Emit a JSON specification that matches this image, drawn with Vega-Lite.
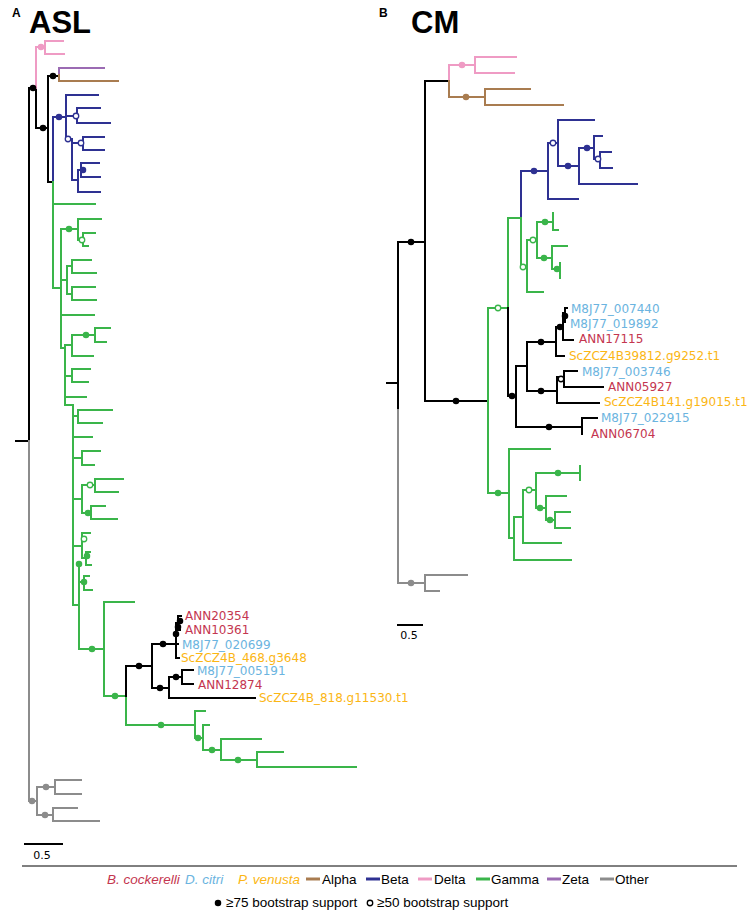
{
"$schema":"https://vega.github.io/schema/vega-lite/v6.json",
"width":750,"height":913,
"autosize":{"type":"fit","contains":"padding"},
"padding":0,
"config":{"view":{"stroke":null}},
"datasets":{
"seg":[
{"x":16,"y":441,"x2":29,"y2":441,"c":"K"},{"x":29,"y":88,"x2":29,"y2":441,"c":"K"},{"x":29,"y":88,"x2":36,"y2":88,"c":"K"},{"x":36,"y":88,"x2":36,"y2":128,"c":"K"},{"x":36,"y":128,"x2":48,"y2":128,"c":"K"},{"x":48,"y":76,"x2":48,"y2":182,"c":"K"},{"x":48,"y":76,"x2":59,"y2":76,"c":"K"},{"x":48,"y":182,"x2":53,"y2":182,"c":"K"},
{"x":29,"y":441,"x2":29,"y2":801,"c":"O"},
{"x":36,"y":47,"x2":36,"y2":88,"c":"D"},{"x":36,"y":47,"x2":45,"y2":47,"c":"D"},{"x":45,"y":41,"x2":45,"y2":54,"c":"D"},{"x":45,"y":41,"x2":63,"y2":41,"c":"D"},{"x":45,"y":54,"x2":64,"y2":54,"c":"D"},
{"x":59,"y":68,"x2":59,"y2":75,"c":"Z"},{"x":59,"y":68,"x2":104,"y2":68,"c":"Z"},
{"x":59,"y":75,"x2":59,"y2":81,"c":"Al"},{"x":59,"y":81,"x2":118,"y2":81,"c":"Al"},
{"x":53,"y":117,"x2":53,"y2":182,"c":"B"},{"x":53,"y":117,"x2":66,"y2":117,"c":"B"},{"x":66,"y":95,"x2":66,"y2":139,"c":"B"},{"x":66,"y":95,"x2":98,"y2":95,"c":"B"},{"x":66,"y":116,"x2":77,"y2":116,"c":"B"},{"x":77,"y":108,"x2":77,"y2":123,"c":"B"},{"x":77,"y":108,"x2":100,"y2":108,"c":"B"},{"x":77,"y":123,"x2":110,"y2":123,"c":"B"},{"x":66,"y":139,"x2":72,"y2":139,"c":"B"},{"x":72,"y":139,"x2":72,"y2":180,"c":"B"},{"x":72,"y":143,"x2":83,"y2":143,"c":"B"},{"x":83,"y":137,"x2":83,"y2":150,"c":"B"},{"x":83,"y":137,"x2":104,"y2":137,"c":"B"},{"x":83,"y":150,"x2":104,"y2":150,"c":"B"},{"x":72,"y":180,"x2":78,"y2":180,"c":"B"},{"x":78,"y":170,"x2":78,"y2":192,"c":"B"},{"x":78,"y":170,"x2":81,"y2":170,"c":"B"},{"x":81,"y":163,"x2":81,"y2":177,"c":"B"},{"x":81,"y":163,"x2":99,"y2":163,"c":"B"},{"x":81,"y":177,"x2":100,"y2":177,"c":"B"},{"x":78,"y":192,"x2":100,"y2":192,"c":"B"},
{"x":53,"y":182,"x2":53,"y2":288,"c":"G"},{"x":53,"y":204,"x2":95,"y2":204,"c":"G"},{"x":53,"y":288,"x2":61,"y2":288,"c":"G"},{"x":61,"y":229,"x2":61,"y2":348,"c":"G"},
{"x":61,"y":229,"x2":78,"y2":229,"c":"G"},{"x":78,"y":219,"x2":78,"y2":240,"c":"G"},{"x":78,"y":219,"x2":101,"y2":219,"c":"G"},{"x":78,"y":240,"x2":83,"y2":240,"c":"G"},{"x":83,"y":233,"x2":83,"y2":246,"c":"G"},{"x":83,"y":233,"x2":95,"y2":233,"c":"G"},{"x":83,"y":246,"x2":88,"y2":246,"c":"G"},
{"x":61,"y":280,"x2":67,"y2":280,"c":"G"},{"x":67,"y":266,"x2":67,"y2":294,"c":"G"},{"x":67,"y":266,"x2":72,"y2":266,"c":"G"},{"x":72,"y":260,"x2":72,"y2":273,"c":"G"},{"x":72,"y":260,"x2":91,"y2":260,"c":"G"},{"x":72,"y":273,"x2":96,"y2":273,"c":"G"},{"x":67,"y":294,"x2":72,"y2":294,"c":"G"},{"x":72,"y":287,"x2":72,"y2":300,"c":"G"},{"x":72,"y":287,"x2":95,"y2":287,"c":"G"},{"x":72,"y":300,"x2":96,"y2":300,"c":"G"},
{"x":61,"y":315,"x2":94,"y2":315,"c":"G"},{"x":61,"y":348,"x2":65,"y2":348,"c":"G"},{"x":65,"y":345,"x2":65,"y2":405,"c":"G"},
{"x":65,"y":345,"x2":72,"y2":345,"c":"G"},{"x":72,"y":335,"x2":72,"y2":356,"c":"G"},{"x":72,"y":335,"x2":95,"y2":335,"c":"G"},{"x":95,"y":328,"x2":95,"y2":342,"c":"G"},{"x":95,"y":328,"x2":110,"y2":328,"c":"G"},{"x":95,"y":342,"x2":106,"y2":342,"c":"G"},{"x":72,"y":356,"x2":93,"y2":356,"c":"G"},
{"x":65,"y":376,"x2":72,"y2":376,"c":"G"},{"x":72,"y":369,"x2":72,"y2":382,"c":"G"},{"x":72,"y":369,"x2":90,"y2":369,"c":"G"},{"x":72,"y":382,"x2":88,"y2":382,"c":"G"},
{"x":65,"y":397,"x2":86,"y2":397,"c":"G"},{"x":65,"y":405,"x2":73,"y2":405,"c":"G"},{"x":73,"y":405,"x2":73,"y2":605,"c":"G"},
{"x":73,"y":416,"x2":78,"y2":416,"c":"G"},{"x":78,"y":410,"x2":78,"y2":423,"c":"G"},{"x":78,"y":410,"x2":112,"y2":410,"c":"G"},{"x":78,"y":423,"x2":102,"y2":423,"c":"G"},
{"x":73,"y":437,"x2":92,"y2":437,"c":"G"},
{"x":73,"y":458,"x2":82,"y2":458,"c":"G"},{"x":82,"y":451,"x2":82,"y2":465,"c":"G"},{"x":82,"y":451,"x2":100,"y2":451,"c":"G"},{"x":82,"y":465,"x2":94,"y2":465,"c":"G"},
{"x":73,"y":499,"x2":82,"y2":499,"c":"G"},{"x":82,"y":485,"x2":82,"y2":513,"c":"G"},{"x":82,"y":485,"x2":95,"y2":485,"c":"G"},{"x":95,"y":479,"x2":95,"y2":492,"c":"G"},{"x":95,"y":479,"x2":123,"y2":479,"c":"G"},{"x":95,"y":492,"x2":118,"y2":492,"c":"G"},{"x":82,"y":513,"x2":91,"y2":513,"c":"G"},{"x":91,"y":506,"x2":91,"y2":519,"c":"G"},{"x":91,"y":506,"x2":105,"y2":506,"c":"G"},{"x":91,"y":519,"x2":117,"y2":519,"c":"G"},
{"x":73,"y":546,"x2":82,"y2":546,"c":"G"},{"x":82,"y":533,"x2":82,"y2":558,"c":"G"},{"x":82,"y":533,"x2":90,"y2":533,"c":"G"},{"x":82,"y":558,"x2":86,"y2":558,"c":"G"},{"x":86,"y":552,"x2":86,"y2":565,"c":"G"},{"x":86,"y":552,"x2":90,"y2":552,"c":"G"},{"x":86,"y":565,"x2":91,"y2":565,"c":"G"},
{"x":73,"y":605,"x2":79,"y2":605,"c":"G"},{"x":79,"y":566,"x2":79,"y2":649,"c":"G"},{"x":79,"y":582,"x2":84,"y2":582,"c":"G"},{"x":84,"y":576,"x2":84,"y2":590,"c":"G"},{"x":84,"y":576,"x2":89,"y2":576,"c":"G"},{"x":84,"y":590,"x2":92,"y2":590,"c":"G"},
{"x":79,"y":649,"x2":104,"y2":649,"c":"G"},{"x":104,"y":602,"x2":104,"y2":696,"c":"G"},{"x":104,"y":602,"x2":134,"y2":602,"c":"G"},{"x":104,"y":696,"x2":126,"y2":696,"c":"G"},{"x":126,"y":696,"x2":126,"y2":725,"c":"G"},
{"x":126,"y":725,"x2":195,"y2":725,"c":"G"},{"x":195,"y":711,"x2":195,"y2":738,"c":"G"},{"x":195,"y":711,"x2":205,"y2":711,"c":"G"},{"x":195,"y":738,"x2":203,"y2":738,"c":"G"},{"x":203,"y":725,"x2":203,"y2":750,"c":"G"},{"x":203,"y":725,"x2":209,"y2":725,"c":"G"},{"x":203,"y":750,"x2":221,"y2":750,"c":"G"},{"x":221,"y":739,"x2":221,"y2":760,"c":"G"},{"x":221,"y":739,"x2":261,"y2":739,"c":"G"},{"x":221,"y":760,"x2":257,"y2":760,"c":"G"},{"x":257,"y":752,"x2":257,"y2":767,"c":"G"},{"x":257,"y":752,"x2":283,"y2":752,"c":"G"},{"x":257,"y":767,"x2":356,"y2":767,"c":"G"},
{"x":126,"y":666,"x2":126,"y2":696,"c":"K"},{"x":126,"y":666,"x2":152,"y2":666,"c":"K"},{"x":152,"y":644,"x2":152,"y2":688,"c":"K"},{"x":152,"y":644,"x2":176,"y2":644,"c":"K"},{"x":176,"y":623,"x2":176,"y2":658,"c":"K"},{"x":176,"y":623,"x2":178,"y2":623,"c":"K"},{"x":178,"y":616,"x2":178,"y2":630,"c":"K"},{"x":178,"y":616,"x2":181,"y2":616,"c":"K"},{"x":178,"y":630,"x2":180,"y2":630,"c":"K"},{"x":176,"y":644,"x2":178,"y2":644,"c":"K"},{"x":176,"y":658,"x2":179,"y2":658,"c":"K"},
{"x":152,"y":688,"x2":169,"y2":688,"c":"K"},{"x":169,"y":677,"x2":169,"y2":698,"c":"K"},{"x":169,"y":677,"x2":182,"y2":677,"c":"K"},{"x":182,"y":670,"x2":182,"y2":684,"c":"K"},{"x":182,"y":670,"x2":193,"y2":670,"c":"K"},{"x":182,"y":684,"x2":193,"y2":684,"c":"K"},{"x":169,"y":698,"x2":255,"y2":698,"c":"K"},
{"x":29,"y":801,"x2":37,"y2":801,"c":"O"},{"x":37,"y":787,"x2":37,"y2":815,"c":"O"},{"x":37,"y":787,"x2":55,"y2":787,"c":"O"},{"x":55,"y":780,"x2":55,"y2":794,"c":"O"},{"x":55,"y":780,"x2":81,"y2":780,"c":"O"},{"x":55,"y":794,"x2":81,"y2":794,"c":"O"},{"x":37,"y":815,"x2":53,"y2":815,"c":"O"},{"x":53,"y":808,"x2":53,"y2":821,"c":"O"},{"x":53,"y":808,"x2":77,"y2":808,"c":"O"},{"x":53,"y":821,"x2":99,"y2":821,"c":"O"},
{"x":25,"y":844,"x2":62,"y2":844,"c":"K"},{"x":398,"y":625,"x2":422,"y2":625,"c":"K"},
{"x":387,"y":383,"x2":398,"y2":383,"c":"K"},{"x":398,"y":242,"x2":398,"y2":410,"c":"K"},{"x":398,"y":410,"x2":398,"y2":583,"c":"O"},{"x":398,"y":242,"x2":425,"y2":242,"c":"K"},{"x":425,"y":81,"x2":425,"y2":401,"c":"K"},{"x":425,"y":81,"x2":449,"y2":81,"c":"K"},
{"x":449,"y":65,"x2":449,"y2":81,"c":"D"},{"x":449,"y":65,"x2":475,"y2":65,"c":"D"},{"x":475,"y":57,"x2":475,"y2":73,"c":"D"},{"x":475,"y":57,"x2":516,"y2":57,"c":"D"},{"x":475,"y":73,"x2":514,"y2":73,"c":"D"},
{"x":449,"y":81,"x2":449,"y2":97,"c":"Al"},{"x":449,"y":97,"x2":485,"y2":97,"c":"Al"},{"x":485,"y":89,"x2":485,"y2":105,"c":"Al"},{"x":485,"y":89,"x2":530,"y2":89,"c":"Al"},{"x":485,"y":105,"x2":563,"y2":105,"c":"Al"},
{"x":425,"y":401,"x2":488,"y2":401,"c":"K"},{"x":488,"y":308,"x2":488,"y2":493,"c":"G"},{"x":488,"y":308,"x2":508,"y2":308,"c":"G"},{"x":508,"y":218,"x2":508,"y2":308,"c":"G"},{"x":508,"y":308,"x2":508,"y2":396,"c":"K"},{"x":508,"y":218,"x2":521,"y2":218,"c":"G"},{"x":521,"y":171,"x2":521,"y2":218,"c":"B"},{"x":521,"y":218,"x2":521,"y2":267,"c":"G"},
{"x":521,"y":171,"x2":548,"y2":171,"c":"B"},{"x":548,"y":143,"x2":548,"y2":199,"c":"B"},{"x":548,"y":199,"x2":578,"y2":199,"c":"B"},{"x":548,"y":143,"x2":558,"y2":143,"c":"B"},{"x":558,"y":120,"x2":558,"y2":166,"c":"B"},{"x":558,"y":120,"x2":594,"y2":120,"c":"B"},{"x":558,"y":166,"x2":579,"y2":166,"c":"B"},{"x":579,"y":148,"x2":579,"y2":184,"c":"B"},{"x":579,"y":184,"x2":637,"y2":184,"c":"B"},{"x":579,"y":148,"x2":594,"y2":148,"c":"B"},{"x":594,"y":136,"x2":594,"y2":159,"c":"B"},{"x":594,"y":136,"x2":602,"y2":136,"c":"B"},{"x":594,"y":159,"x2":600,"y2":159,"c":"B"},{"x":600,"y":152,"x2":600,"y2":168,"c":"B"},{"x":600,"y":152,"x2":611,"y2":152,"c":"B"},{"x":600,"y":168,"x2":612,"y2":168,"c":"B"},
{"x":521,"y":267,"x2":527,"y2":267,"c":"G"},{"x":527,"y":240,"x2":527,"y2":292,"c":"G"},{"x":527,"y":292,"x2":543,"y2":292,"c":"G"},{"x":527,"y":240,"x2":537,"y2":240,"c":"G"},{"x":537,"y":222,"x2":537,"y2":258,"c":"G"},{"x":537,"y":222,"x2":553,"y2":222,"c":"G"},{"x":553,"y":213,"x2":553,"y2":230,"c":"G"},{"x":553,"y":230,"x2":558,"y2":230,"c":"G"},{"x":537,"y":258,"x2":552,"y2":258,"c":"G"},{"x":552,"y":246,"x2":552,"y2":269,"c":"G"},{"x":552,"y":246,"x2":567,"y2":246,"c":"G"},{"x":552,"y":269,"x2":560,"y2":269,"c":"G"},{"x":560,"y":263,"x2":560,"y2":278,"c":"G"},
{"x":508,"y":396,"x2":516,"y2":396,"c":"K"},{"x":516,"y":366,"x2":516,"y2":427,"c":"K"},{"x":516,"y":366,"x2":527,"y2":366,"c":"K"},{"x":527,"y":342,"x2":527,"y2":391,"c":"K"},{"x":527,"y":342,"x2":556,"y2":342,"c":"K"},{"x":556,"y":327,"x2":556,"y2":356,"c":"K"},{"x":556,"y":356,"x2":564,"y2":356,"c":"K"},{"x":556,"y":327,"x2":563,"y2":327,"c":"K"},{"x":563,"y":313,"x2":563,"y2":340,"c":"K"},{"x":563,"y":340,"x2":573,"y2":340,"c":"K"},{"x":563,"y":316,"x2":565,"y2":316,"c":"K"},{"x":565,"y":308,"x2":565,"y2":322,"c":"K"},{"x":565,"y":308,"x2":567,"y2":308,"c":"K"},
{"x":527,"y":391,"x2":557,"y2":391,"c":"K"},{"x":557,"y":377,"x2":557,"y2":403,"c":"K"},{"x":557,"y":377,"x2":564,"y2":377,"c":"K"},{"x":564,"y":371,"x2":564,"y2":387,"c":"K"},{"x":564,"y":371,"x2":577,"y2":371,"c":"K"},{"x":564,"y":387,"x2":603,"y2":387,"c":"K"},{"x":557,"y":403,"x2":599,"y2":403,"c":"K"},
{"x":516,"y":427,"x2":582,"y2":427,"c":"K"},{"x":582,"y":418,"x2":582,"y2":434,"c":"K"},{"x":582,"y":418,"x2":597,"y2":418,"c":"K"},
{"x":488,"y":493,"x2":509,"y2":493,"c":"G"},{"x":509,"y":449,"x2":509,"y2":538,"c":"G"},{"x":509,"y":449,"x2":550,"y2":449,"c":"G"},{"x":509,"y":538,"x2":514,"y2":538,"c":"G"},{"x":514,"y":517,"x2":514,"y2":560,"c":"G"},{"x":514,"y":560,"x2":571,"y2":560,"c":"G"},{"x":514,"y":517,"x2":523,"y2":517,"c":"G"},{"x":523,"y":490,"x2":523,"y2":543,"c":"G"},{"x":523,"y":543,"x2":561,"y2":543,"c":"G"},{"x":523,"y":490,"x2":536,"y2":490,"c":"G"},{"x":536,"y":473,"x2":536,"y2":508,"c":"G"},{"x":536,"y":473,"x2":580,"y2":473,"c":"G"},{"x":580,"y":466,"x2":580,"y2":480,"c":"G"},{"x":536,"y":508,"x2":546,"y2":508,"c":"G"},{"x":546,"y":496,"x2":546,"y2":520,"c":"G"},{"x":546,"y":496,"x2":566,"y2":496,"c":"G"},{"x":546,"y":520,"x2":555,"y2":520,"c":"G"},{"x":555,"y":512,"x2":555,"y2":528,"c":"G"},{"x":555,"y":512,"x2":570,"y2":512,"c":"G"},{"x":555,"y":528,"x2":570,"y2":528,"c":"G"},
{"x":398,"y":583,"x2":425,"y2":583,"c":"O"},{"x":425,"y":575,"x2":425,"y2":591,"c":"O"},{"x":425,"y":575,"x2":467,"y2":575,"c":"O"},{"x":425,"y":591,"x2":439,"y2":591,"c":"O"}
],
"legline":[
{"x":306,"y":879,"x2":320,"y2":879,"c":"Al"},{"x":366,"y":879,"x2":380,"y2":879,"c":"B"},{"x":418,"y":879,"x2":432,"y2":879,"c":"D"},{"x":476,"y":879,"x2":490,"y2":879,"c":"G"},{"x":547,"y":879,"x2":561,"y2":879,"c":"Z"},{"x":600,"y":879,"x2":614,"y2":879,"c":"O"}
],
"sep":[{"x":22,"y":866,"x2":737,"y2":866}],
"nd":[
{"x":33,"y":88,"c":"K","o":0},{"x":43,"y":128,"c":"K","o":0},{"x":53,"y":76,"c":"K","o":0},{"x":139,"y":666,"c":"K","o":0},{"x":163,"y":644,"c":"K","o":0},{"x":160,"y":688,"c":"K","o":0},{"x":176,"y":677,"c":"K","o":0},{"x":176,"y":634,"c":"K","o":0},{"x":178,"y":627,"c":"K","o":0},{"x":180,"y":621,"c":"K","o":0},
{"x":41,"y":47,"c":"D","o":0},{"x":59,"y":117,"c":"B","o":0},{"x":83,"y":170,"c":"B","o":0},
{"x":76,"y":116,"c":"B","o":1},{"x":68,"y":139,"c":"B","o":1},{"x":81,"y":143,"c":"B","o":1},
{"x":69,"y":229,"c":"G","o":0},{"x":86,"y":335,"c":"G","o":0},{"x":88,"y":513,"c":"G","o":0},{"x":87,"y":556,"c":"G","o":0},{"x":79,"y":564,"c":"G","o":0},{"x":84,"y":582,"c":"G","o":0},{"x":92,"y":649,"c":"G","o":0},{"x":115,"y":696,"c":"G","o":0},{"x":161,"y":725,"c":"G","o":0},{"x":198,"y":738,"c":"G","o":0},{"x":212,"y":750,"c":"G","o":0},{"x":238,"y":760,"c":"G","o":0},
{"x":82,"y":240,"c":"G","o":1},{"x":90,"y":485,"c":"G","o":1},{"x":84,"y":539,"c":"G","o":1},
{"x":32,"y":801,"c":"O","o":0},{"x":46,"y":787,"c":"O","o":0},{"x":45,"y":815,"c":"O","o":0},
{"x":411,"y":242,"c":"K","o":0},{"x":456,"y":401,"c":"K","o":0},{"x":512,"y":396,"c":"K","o":0},{"x":541,"y":342,"c":"K","o":0},{"x":560,"y":327,"c":"K","o":0},{"x":565,"y":316,"c":"K","o":0},{"x":541,"y":391,"c":"K","o":0},{"x":549,"y":427,"c":"K","o":0},
{"x":561,"y":379,"c":"K","o":1},
{"x":462,"y":65,"c":"D","o":0},{"x":466,"y":97,"c":"Al","o":0},
{"x":534,"y":171,"c":"B","o":0},{"x":568,"y":166,"c":"B","o":0},{"x":587,"y":148,"c":"B","o":0},
{"x":553,"y":143,"c":"B","o":1},{"x":598,"y":159,"c":"B","o":1},
{"x":545,"y":222,"c":"G","o":0},{"x":544,"y":258,"c":"G","o":0},{"x":557,"y":269,"c":"G","o":0},{"x":498,"y":493,"c":"G","o":0},{"x":558,"y":473,"c":"G","o":0},{"x":540,"y":508,"c":"G","o":0},{"x":550,"y":520,"c":"G","o":0},
{"x":498,"y":308,"c":"G","o":1},{"x":523,"y":267,"c":"G","o":1},{"x":533,"y":240,"c":"G","o":1},{"x":529,"y":490,"c":"G","o":1},
{"x":411,"y":583,"c":"O","o":0},
{"x":218,"y":903,"c":"K","o":0},{"x":370,"y":903,"c":"K","o":1}
],
"lab":[
{"x":185,"y":616,"t":"ANN20354","c":"Bc"},{"x":185,"y":630,"t":"ANN10361","c":"Bc"},{"x":182,"y":645,"t":"M8J77_020699","c":"Dc"},{"x":181,"y":658,"t":"ScZCZ4B_468.g3648","c":"Pv"},{"x":197,"y":671,"t":"M8J77_005191","c":"Dc"},{"x":198,"y":685,"t":"ANN12874","c":"Bc"},{"x":259,"y":698,"t":"ScZCZ4B_818.g11530.t1","c":"Pv"},
{"x":571,"y":309,"t":"M8J77_007440","c":"Dc"},{"x":570,"y":324,"t":"M8J77_019892","c":"Dc"},{"x":579,"y":339,"t":"ANN17115","c":"Bc"},{"x":569,"y":356,"t":"ScZCZ4B39812.g9252.t1","c":"Pv"},{"x":582,"y":372,"t":"M8J77_003746","c":"Dc"},{"x":608,"y":387,"t":"ANN05927","c":"Bc"},{"x":604,"y":402,"t":"ScZCZ4B141.g19015.t1","c":"Pv"},{"x":601,"y":418,"t":"M8J77_022915","c":"Dc"},{"x":591,"y":434,"t":"ANN06704","c":"Bc"}
],
"sp":[
{"x":107,"y":880,"t":"B. cockerelli","c":"Bc"},{"x":185,"y":880,"t":"D. citri","c":"Dc"},{"x":238,"y":880,"t":"P. venusta","c":"Pv"}
],
"legtxt":[
{"x":322,"y":880,"t":"Alpha"},{"x":381,"y":880,"t":"Beta"},{"x":434,"y":880,"t":"Delta"},{"x":491,"y":880,"t":"Gamma"},{"x":562,"y":880,"t":"Zeta"},{"x":615,"y":880,"t":"Other"},
{"x":226,"y":903,"t":"≥75 bootstrap support"},{"x":377,"y":903,"t":"≥50 bootstrap support"}
],
"scl":[{"x":42,"y":856,"t":"0.5"},{"x":409,"y":636,"t":"0.5"}],
"pl":[{"x":12,"y":13,"t":"A"},{"x":379,"y":13,"t":"B"}],
"ttl":[{"x":29,"y":33,"t":"ASL"},{"x":411,"y":33,"t":"CM"}]
},
"layer":[
{"data":{"name":"seg"},"mark":{"type":"rule","strokeWidth":2,"strokeCap":"square"},
 "encoding":{"x":{"field":"x","type":"quantitative","scale":{"domain":[0,750],"nice":false,"zero":false},"axis":null},
 "y":{"field":"y","type":"quantitative","scale":{"domain":[0,913],"nice":false,"zero":false,"reverse":true},"axis":null},
 "x2":{"field":"x2"},"y2":{"field":"y2"},
 "color":{"field":"c","type":"nominal","legend":null,"scale":{"domain":["K","D","Al","B","G","Z","O","Bc","Dc","Pv"],"range":["#000000","#EF9BC4","#A97C50","#2E3192","#3AB54A","#9B6BB3","#8C8C8C","#C4364F","#6BB4E0","#FBB615"]}}}},
{"data":{"name":"legline"},"mark":{"type":"rule","strokeWidth":3},
 "encoding":{"x":{"field":"x","type":"quantitative"},"y":{"field":"y","type":"quantitative"},"x2":{"field":"x2"},"y2":{"field":"y2"},"color":{"field":"c","type":"nominal","legend":null}}},
{"data":{"name":"sep"},"mark":{"type":"rule","strokeWidth":1,"color":"#000000"},
 "encoding":{"x":{"field":"x","type":"quantitative"},"y":{"field":"y","type":"quantitative"},"x2":{"field":"x2"},"y2":{"field":"y2"}}},
{"data":{"name":"nd"},"transform":[{"filter":"datum.o == 0"}],"mark":{"type":"circle","size":42,"opacity":1},
 "encoding":{"x":{"field":"x","type":"quantitative"},"y":{"field":"y","type":"quantitative"},"color":{"field":"c","type":"nominal","legend":null}}},
{"data":{"name":"nd"},"transform":[{"filter":"datum.o == 1"}],"mark":{"type":"circle","size":30,"opacity":1,"fill":"#ffffff","strokeWidth":1.3},
 "encoding":{"x":{"field":"x","type":"quantitative"},"y":{"field":"y","type":"quantitative"},
 "stroke":{"field":"c","type":"nominal","legend":null,"scale":{"domain":["K","D","Al","B","G","Z","O"],"range":["#000000","#EF9BC4","#A97C50","#2E3192","#3AB54A","#9B6BB3","#8C8C8C"]}}}},
{"data":{"name":"lab"},"mark":{"type":"text","align":"left","baseline":"middle","font":"DejaVu Sans","fontSize":12},
 "encoding":{"x":{"field":"x","type":"quantitative"},"y":{"field":"y","type":"quantitative"},"text":{"field":"t"},"color":{"field":"c","type":"nominal","legend":null}}},
{"data":{"name":"sp"},"mark":{"type":"text","align":"left","baseline":"middle","font":"Liberation Sans Narrow, Liberation Sans, sans-serif","fontSize":13.5,"fontStyle":"italic"},
 "encoding":{"x":{"field":"x","type":"quantitative"},"y":{"field":"y","type":"quantitative"},"text":{"field":"t"},"color":{"field":"c","type":"nominal","legend":null}}},
{"data":{"name":"legtxt"},"mark":{"type":"text","align":"left","baseline":"middle","font":"Liberation Sans Narrow, Liberation Sans, sans-serif","fontSize":13.5,"color":"#000000"},
 "encoding":{"x":{"field":"x","type":"quantitative"},"y":{"field":"y","type":"quantitative"},"text":{"field":"t"}}},
{"data":{"name":"scl"},"mark":{"type":"text","align":"center","baseline":"middle","font":"DejaVu Sans","fontSize":11,"color":"#000000"},
 "encoding":{"x":{"field":"x","type":"quantitative"},"y":{"field":"y","type":"quantitative"},"text":{"field":"t"}}},
{"data":{"name":"pl"},"mark":{"type":"text","align":"left","baseline":"middle","font":"Liberation Sans","fontWeight":"bold","fontSize":12,"color":"#000000"},
 "encoding":{"x":{"field":"x","type":"quantitative"},"y":{"field":"y","type":"quantitative"},"text":{"field":"t"}}},
{"data":{"name":"ttl"},"mark":{"type":"text","align":"left","baseline":"alphabetic","font":"Liberation Sans","fontWeight":"bold","fontSize":31,"color":"#000000"},
 "encoding":{"x":{"field":"x","type":"quantitative"},"y":{"field":"y","type":"quantitative"},"text":{"field":"t"}}}
]
}
